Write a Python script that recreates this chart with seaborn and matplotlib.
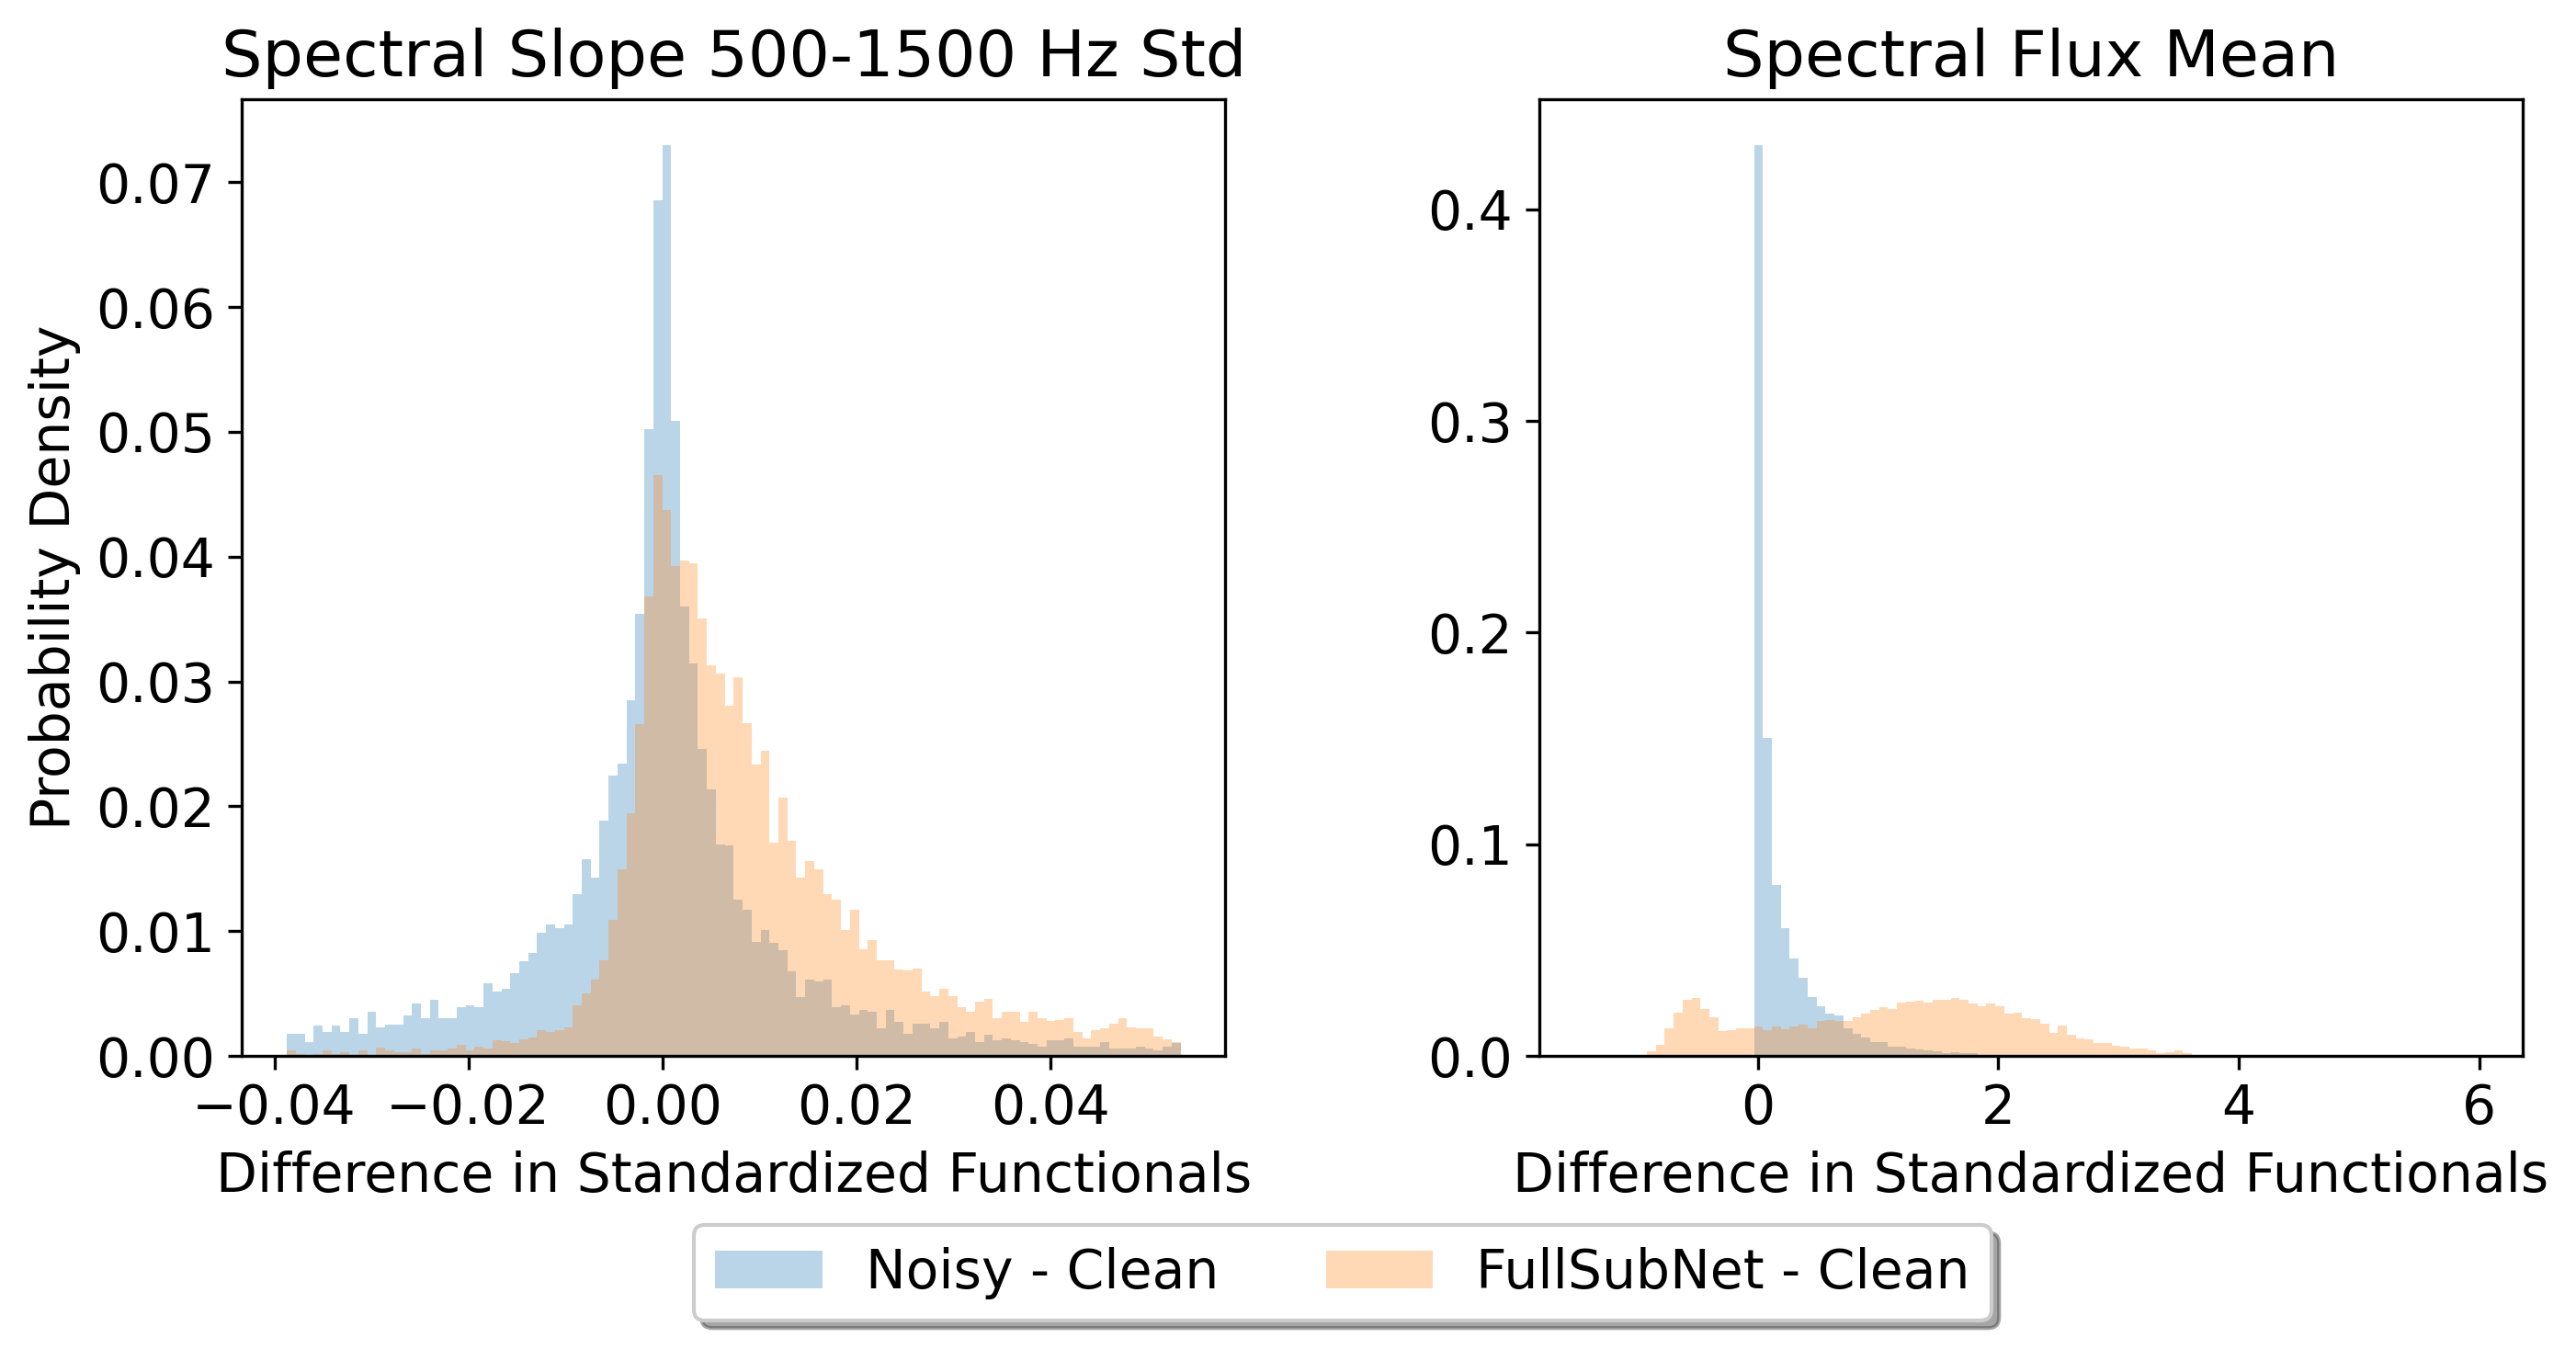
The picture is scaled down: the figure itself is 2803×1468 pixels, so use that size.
import numpy as np
import pandas as pd
import matplotlib
matplotlib.use("Agg")
import matplotlib.pyplot as plt
import seaborn as sns

# ---------------- data (per-bin probabilities) ----------------
titles = ["Spectral Slope 500-1500 Hz Std", "Spectral Flux Mean"]
series_labels = ["Noisy - Clean", "FullSubNet - Clean"]
xlabel = "Difference in Standardized Functionals"
ylabel = "Probability Density"

# Panel 1: 100 shared bins
slope_range = (-0.03872, 0.05345)
slope_noisy = [
    0.00178, 0.00178, 0.00107, 0.00244, 0.00193, 0.00244, 0.00193, 0.00305, 0.00178, 0.00355,
    0.00228, 0.00254, 0.00254, 0.00325, 0.00421, 0.00299, 0.00452, 0.00299, 0.00305, 0.00391,
    0.00406, 0.00391, 0.00579, 0.00513, 0.00538, 0.00665, 0.00756, 0.00822, 0.00990, 0.01051,
    0.01020, 0.01056, 0.01294, 0.01579, 0.01431, 0.01883, 0.02249, 0.02340, 0.02848, 0.03538,
    0.05020, 0.06858, 0.07299, 0.05086, 0.03599, 0.03142, 0.02462, 0.02137, 0.01695, 0.01685,
    0.01249, 0.01173, 0.00914, 0.01005, 0.00904, 0.00848, 0.00680, 0.00472, 0.00614, 0.00599,
    0.00614, 0.00391, 0.00406, 0.00335, 0.00371, 0.00355, 0.00223, 0.00365, 0.00269, 0.00178,
    0.00259, 0.00259, 0.00223, 0.00269, 0.00137, 0.00152, 0.00193, 0.00107, 0.00173, 0.00127,
    0.00142, 0.00127, 0.00112, 0.00096, 0.00076, 0.00122, 0.00122, 0.00137, 0.00071, 0.00076,
    0.00076, 0.00112, 0.00056, 0.00061, 0.00061, 0.00076, 0.00056, 0.00046, 0.00076, 0.00102,
]
slope_fullsubnet = [
    0.00041, 0.00015, 0.00010, 0.00015, 0.00041, 0.00015, 0.00030, 0.00005, 0.00041, 0.00005,
    0.00066, 0.00046, 0.00030, 0.00030, 0.00061, 0.00015, 0.00046, 0.00046, 0.00061, 0.00086,
    0.00046, 0.00076, 0.00061, 0.00127, 0.00117, 0.00102, 0.00132, 0.00147, 0.00208, 0.00193,
    0.00203, 0.00228, 0.00406, 0.00503, 0.00614, 0.00766, 0.01091, 0.01497, 0.01944, 0.02660,
    0.03680, 0.04655, 0.04371, 0.03924, 0.03970, 0.03944, 0.03508, 0.03127, 0.03066, 0.02802,
    0.03030, 0.02665, 0.02335, 0.02447, 0.01706, 0.02066, 0.01721, 0.01426, 0.01563, 0.01492,
    0.01299, 0.01249, 0.01005, 0.01168, 0.00853, 0.00929, 0.00766, 0.00766, 0.00695, 0.00685,
    0.00701, 0.00513, 0.00482, 0.00538, 0.00482, 0.00391, 0.00355, 0.00431, 0.00457, 0.00305,
    0.00355, 0.00350, 0.00269, 0.00350, 0.00299, 0.00279, 0.00284, 0.00299, 0.00188, 0.00142,
    0.00203, 0.00223, 0.00259, 0.00305, 0.00228, 0.00223, 0.00223, 0.00157, 0.00132, 0.00112,
]

# Panel 2: 100 shared bins
flux_range = (-1.445, 5.99)
flux_noisy = [
    0, 0, 0, 0, 0, 0, 0, 0, 0, 0,
    0, 0, 0, 0, 0, 0, 0, 0, 0, 0.4305,
    0.1502, 0.0807, 0.0602, 0.0462, 0.0370, 0.0278, 0.0235, 0.0200, 0.0192, 0.0132,
    0.0106, 0.0088, 0.0067, 0.0067, 0.0045, 0.0045, 0.0036, 0.0032, 0.0028, 0.0023,
    0.0014, 0.0019, 0.0014, 0.0014, 0.0006, 0.0006, 0.0006, 0.0006, 0.0003, 0.0003,
    0.0003, 0.0003, 0.0002, 0.0002, 0.0002, 0.0002, 0.0002, 0.0002, 0.0002, 0.0002,
    0.0002, 0.0001, 0.0001, 0.0001, 0.0001, 0.0001, 0.0001, 0.0001, 0.0001, 0.0001,
    0.0001, 0.00005, 0.00005, 0.00005, 0.00005, 0.00005, 0.00005, 0.00005, 0.00005, 0.00005,
    0.00005, 0.00005, 0.00005, 0.00005, 0.00005, 0.00005, 0.00005, 0.00005, 0.00005, 0.00005,
    0.00005, 0.00005, 0.00005, 0.00005, 0.00005, 0.00005, 0.00005, 0.00005, 0.00005, 0.0001,
]
flux_fullsubnet = [
    0, 0, 0, 0, 0, 0.0003, 0.0006, 0.0023, 0.0054, 0.0132,
    0.0206, 0.0266, 0.0272, 0.0223, 0.0184, 0.0116, 0.0123, 0.0132, 0.0132, 0.0140,
    0.0123, 0.0140, 0.0127, 0.0140, 0.0146, 0.0132, 0.0166, 0.0171, 0.0166, 0.0166,
    0.0184, 0.0201, 0.0219, 0.0232, 0.0223, 0.0253, 0.0258, 0.0262, 0.0253, 0.0266,
    0.0266, 0.0275, 0.0266, 0.0249, 0.0236, 0.0249, 0.0236, 0.0201, 0.0206, 0.0179,
    0.0175, 0.0153, 0.0110, 0.0145, 0.0101, 0.0084, 0.0080, 0.0062, 0.0062, 0.0049,
    0.0045, 0.0036, 0.0036, 0.0028, 0.0014, 0.0019, 0.0028, 0.0014, 0.0006, 0.0006,
    0.0006, 0.0002, 0.0002, 0.0002, 0, 0, 0, 0, 0, 0,
    0, 0, 0, 0, 0, 0, 0, 0, 0, 0,
    0, 0, 0, 0, 0, 0, 0, 0, 0, 0,
]

n_bins = 100
panels = [
    (titles[0], slope_range, slope_noisy, slope_fullsubnet),
    (titles[1], flux_range, flux_noisy, flux_fullsubnet),
]
colors = ["tab:blue", "tab:orange"]

# ---------------- figure ----------------
FS = 14.0
plt.rcParams["font.family"] = ["DejaVu Sans"]
plt.rcParams["font.size"] = FS

fig, axes = plt.subplots(1, 2, figsize=(2803 / 300, 1468 / 300), dpi=300)
fig.subplots_adjust(left=0.0940, right=0.9793, bottom=0.2173, top=0.9264, wspace=0.3196)

for ax, (title, rng, noisy, fsn) in zip(axes, panels):
    width = (rng[1] - rng[0]) / n_bins
    centers = rng[0] + width * (np.arange(n_bins) + 0.5)
    for vals, col, lab in zip([noisy, fsn], colors, series_labels):
        df = pd.DataFrame({"x": centers, "w": vals})
        sns.histplot(data=df, x="x", weights="w", bins=n_bins, binrange=rng,
                     stat="count", color=col, alpha=0.3, edgecolor="none",
                     linewidth=0, label=lab, ax=ax)
    ax.set_title(title, fontsize=FS * 1.2)
    ax.set_xlabel(xlabel, fontsize=FS)
    ax.set_ylabel("")
    ax.tick_params(labelsize=FS)

axes[0].set_ylabel(ylabel, fontsize=FS)

handles, labels = axes[0].get_legend_handles_labels()
fig.legend(handles, labels, loc="center", bbox_to_anchor=(0.5212, 0.0565),
           ncol=2, fancybox=True, shadow=True, fontsize=FS)

fig.savefig("out.png", dpi=300)
